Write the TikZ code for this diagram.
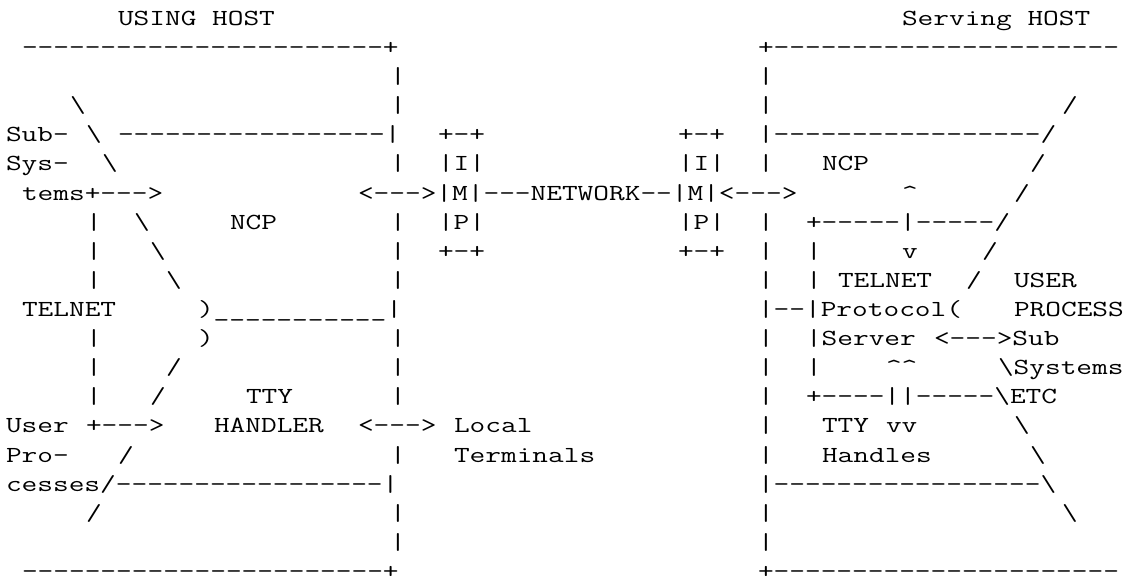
\documentclass[tikz,border=0pt]{standalone}
\tikzset{
  ascii/.style={anchor=base west,inner sep=0pt,outer sep=0pt,xscale=1.325,
    font=\ttfamily\fontsize{23}{28}\selectfont}
}
\newcommand{\bsl}{\textbackslash}
\newcommand{\crt}{\textasciicircum}

\begin{document}
\begin{tikzpicture}[x=16pt,y=-29.1pt]
  \useasboundingbox (-0.375,0.1237) rectangle (70.125,20.2268);
  % titles and host frames
  \node[ascii] (using) at (7,1) {USING HOST};
  \node[ascii] (serving) at (56,1) {Serving HOST};
  \node[ascii] (ltop) at (1,2) {-----------------------+};
  \node[ascii] (rtop) at (47,2) {+----------------------};
  \node[ascii] (lbot) at (1,20) {-----------------------+};
  \node[ascii] (rbot) at (47,20) {+----------------------};
  \node[ascii] (lbar3) at (24,3) {|};
  \node[ascii] (rbar3) at (47,3) {|};
  \node[ascii] (lbar4) at (24,4) {|};
  \node[ascii] (rbar4) at (47,4) {|};
  \node[ascii] (lbar19) at (24,19) {|};
  \node[ascii] (rbar19) at (47,19) {|};
  % using host, left half
  \node[ascii] (ldiag4) at (4,4) {\bsl};
  \node[ascii] (sub) at (0,5) {Sub-};
  \node[ascii] (ldiag5) at (5,5) {\bsl};
  \node[ascii] (ncpl) at (7,5) {-----------------|};
  \node[ascii] (sys) at (0,6) {Sys-};
  \node[ascii] (ldiag6) at (6,6) {\bsl};
  \node[ascii] (lbar6) at (24,6) {|};
  \node[ascii] (tems) at (1,7) {tems+--->};
  \node[ascii] (tbar8) at (5,8) {|};
  \node[ascii] (ldiag8) at (8,8) {\bsl};
  \node[ascii] (ncp) at (14,8) {NCP};
  \node[ascii] (lbar8) at (24,8) {|};
  \node[ascii] (tbar9) at (5,9) {|};
  \node[ascii] (ldiag9) at (9,9) {\bsl};
  \node[ascii] (lbar9) at (24,9) {|};
  \node[ascii] (tbar10) at (5,10) {|};
  \node[ascii] (ldiag10) at (10,10) {\bsl};
  \node[ascii] (lbar10) at (24,10) {|};
  \node[ascii] (telnet) at (1,11) {TELNET};
  \node[ascii] (telnetl) at (12,11) {)\_\_\_\_\_\_\_\_\_\_\_|};
  \node[ascii] (tbar12) at (5,12) {|};
  \node[ascii] (paren12) at (12,12) {)};
  \node[ascii] (lbar12) at (24,12) {|};
  \node[ascii] (tbar13) at (5,13) {|};
  \node[ascii] (ldiag13) at (10,13) {/};
  \node[ascii] (lbar13) at (24,13) {|};
  \node[ascii] (tbar14) at (5,14) {|};
  \node[ascii] (ldiag14) at (9,14) {/};
  \node[ascii] (tty) at (15,14) {TTY};
  \node[ascii] (lbar14) at (24,14) {|};
  \node[ascii] (user) at (0,15) {User};
  \node[ascii] (userarr) at (5,15) {+--->};
  \node[ascii] (handler) at (13,15) {HANDLER};
  \node[ascii] (localarr) at (22,15) {<--->};
  \node[ascii] (local) at (28,15) {Local};
  \node[ascii] (pro) at (0,16) {Pro-};
  \node[ascii] (ldiag16) at (7,16) {/};
  \node[ascii] (lbar16) at (24,16) {|};
  \node[ascii] (terminals) at (28,16) {Terminals};
  \node[ascii] (cesses) at (0,17) {cesses/-----------------|};
  \node[ascii] (ldiag18) at (5,18) {/};
  \node[ascii] (lbar18) at (24,18) {|};
  % imps and network
  \node[ascii] (impltop) at (27,5) {+-+};
  \node[ascii] (imprtop) at (42,5) {+-+};
  \node[ascii] (impli) at (27,6) {|I|};
  \node[ascii] (impri) at (42,6) {|I|};
  \node[ascii] (network) at (22,7) {<--->|M|---NETWORK--|M|<--->};
  \node[ascii] (implp) at (27,8) {|P|};
  \node[ascii] (imprp) at (42,8) {|P|};
  \node[ascii] (implbot) at (27,9) {+-+};
  \node[ascii] (imprbot) at (42,9) {+-+};
  % serving host, right half
  \node[ascii] (rdiag4) at (66,4) {/};
  \node[ascii] (ncpr) at (47,5) {|-----------------/};
  \node[ascii] (rbar6) at (47,6) {|};
  \node[ascii] (ncps) at (51,6) {NCP};
  \node[ascii] (rdiag6) at (64,6) {/};
  \node[ascii] (up7) at (56,7) {\crt};
  \node[ascii] (rdiag7) at (63,7) {/};
  \node[ascii] (rbar8) at (47,8) {|};
  \node[ascii] (srvtop) at (50,8) {+-----|-----/};
  \node[ascii] (rbar9) at (47,9) {|};
  \node[ascii] (sbar9) at (50,9) {|};
  \node[ascii] (down9) at (56,9) {v};
  \node[ascii] (rdiag9) at (61,9) {/};
  \node[ascii] (rbar10) at (47,10) {|};
  \node[ascii] (sbar10) at (50,10) {|};
  \node[ascii] (telnets) at (52,10) {TELNET};
  \node[ascii] (rdiag10) at (60,10) {/};
  \node[ascii] (userp) at (63,10) {USER};
  \node[ascii] (protocol) at (47,11) {|--|Protocol(};
  \node[ascii] (process) at (63,11) {PROCESS};
  \node[ascii] (rbar12) at (47,12) {|};
  \node[ascii] (server) at (50,12) {|Server};
  \node[ascii] (subarr) at (58,12) {<--->Sub};
  \node[ascii] (rbar13) at (47,13) {|};
  \node[ascii] (sbar13) at (50,13) {|};
  \node[ascii] (up13) at (55,13) {\crt\crt};
  \node[ascii] (systems) at (62,13) {\bsl Systems};
  \node[ascii] (rbar14) at (47,14) {|};
  \node[ascii] (srvbot) at (50,14) {+----||-----\bsl ETC};
  \node[ascii] (rbar15) at (47,15) {|};
  \node[ascii] (ttys) at (51,15) {TTY};
  \node[ascii] (down15) at (55,15) {vv};
  \node[ascii] (rdiag15) at (63,15) {\bsl};
  \node[ascii] (rbar16) at (47,16) {|};
  \node[ascii] (handles) at (51,16) {Handles};
  \node[ascii] (rdiag16) at (64,16) {\bsl};
  \node[ascii] (ttyr) at (47,17) {|-----------------\bsl};
  \node[ascii] (rbar18) at (47,18) {|};
  \node[ascii] (rdiag18) at (66,18) {\bsl};
\end{tikzpicture}
\end{document}
